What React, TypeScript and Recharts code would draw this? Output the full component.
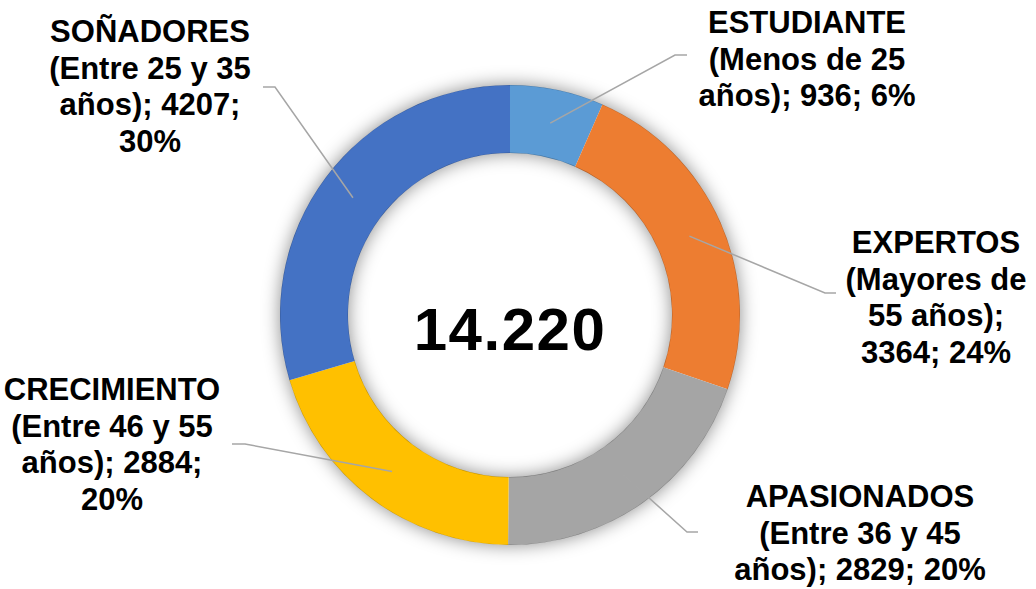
import { PieChart, Pie, Cell } from 'recharts';

const segments = ['ESTUDIANTE', 'EXPERTOS', 'APASIONADOS', 'CRECIMIENTO', 'SOÑADORES'];
const ageRanges = ['Menos de 25', 'Mayores de 55', 'Entre 36 y 45', 'Entre 46 y 55', 'Entre 25 y 35'];
const counts = [936, 3364, 2829, 2884, 4207];
const percents = [6, 24, 20, 20, 30];

const colors = ['#5B9BD5', '#ED7D31', '#A5A5A5', '#FFC000', '#4472C4'];

// where Excel put each label box and how its leader line bends
const labelLayout = [
  { x: 807, y: 33, words: [1, 3, 3], elbow: [675, 55], end: [687, 55] },
  { x: 936, y: 253, words: [1, 2, 2, 2], elbow: [825, 293], end: [836, 293] },
  { x: 860, y: 507, words: [1, 4, 3], elbow: [687, 532], end: [698, 532] },
  { x: 112, y: 400, words: [1, 4, 2, 1], elbow: [245, 444], end: [232, 444] },
  { x: 150, y: 42, words: [1, 4, 2, 1], elbow: [275, 87], end: [263, 87] },
];

const data = segments.map((name, i) => ({ name, value: counts[i] }));
const total = counts.reduce((a, b) => a + b, 0);
const ringData = [{ name: 'total', value: total }];

const formatThousands = (n: number) => String(n).replace(/\B(?=(\d{3})+(?!\d))/g, '.');

const FONT = '"Liberation Sans", Arial, sans-serif';
const RAD = Math.PI / 180;

const circlePath = (cx: number, cy: number, r: number) =>
  `M ${cx - r} ${cy} a ${r} ${r} 0 1 0 ${r * 2} 0 a ${r} ${r} 0 1 0 ${-r * 2} 0 Z `;

const renderLabel = (props: any) => {
  const { cx, cy, midAngle, innerRadius, outerRadius, index } = props;
  const lay = labelLayout[index];
  const r = (innerRadius + outerRadius) / 2;
  const ax = cx + r * Math.cos(-midAngle * RAD);
  const ay = cy + r * Math.sin(-midAngle * RAD);

  const text = `${segments[index]} (${ageRanges[index]} años); ${counts[index]}; ${percents[index]}%`;
  const allWords = text.split(' ');
  const lines: string[] = [];
  let k = 0;
  lay.words.forEach((n) => {
    lines.push(allWords.slice(k, k + n).join(' '));
    k += n;
  });

  return (
    <g key={`lbl-${index}`}>
      <polyline
        points={`${ax},${ay} ${lay.elbow[0]},${lay.elbow[1]} ${lay.end[0]},${lay.end[1]}`}
        fill="none"
        stroke="#a6a6a6"
        strokeWidth={1.5}
      />
      <text
        x={lay.x}
        y={lay.y}
        textAnchor="middle"
        fill="#000"
        fontFamily={FONT}
        fontWeight="bold"
        fontSize={31}
      >
        {lines.map((l, i) => (
          <tspan key={i} x={lay.x} y={lay.y + i * 36.7}>
            {l}
          </tspan>
        ))}
      </text>
    </g>
  );
};

// soft glow around the ring (clipped so it never covers the sectors) + the total in the hole
const renderCenter = (props: any) => {
  const { cx, cy, innerRadius, outerRadius } = props;
  const ring = circlePath(cx, cy, outerRadius) + circlePath(cx, cy, innerRadius);
  const clip =
    `M 0 0 H 1036 V 589 H 0 Z ` + circlePath(cx, cy, outerRadius - 0.5) + circlePath(cx, cy, innerRadius + 0.5);
  return (
    <g key="center">
      <defs>
        <filter id="ringShadow" x="-30%" y="-30%" width="160%" height="160%">
          <feGaussianBlur stdDeviation="9" />
        </filter>
        <clipPath id="ringClip">
          <path d={clip} clipRule="evenodd" />
        </clipPath>
      </defs>
      <g clipPath="url(#ringClip)">
        <path d={ring} fillRule="evenodd" fill="#000" fillOpacity={0.45} filter="url(#ringShadow)" />
      </g>
      <text
        x={cx}
        y={cy + 35}
        textAnchor="middle"
        fill="#000"
        fontFamily={FONT}
        fontWeight="bold"
        fontSize={60}
        letterSpacing={1.5}
      >
        {formatThousands(total)}
      </text>
    </g>
  );
};

export default function App() {
  return (
    <div style={{ position: 'absolute', left: 0, top: 0, width: 1036, height: 589, background: '#fff' }}>
      <PieChart width={1036} height={589} margin={{ top: 0, right: 0, bottom: 0, left: 0 }}>
        <Pie
          data={ringData}
          dataKey="value"
          cx={510}
          cy={315}
          innerRadius={162}
          outerRadius={230}
          stroke="none"
          fill="none"
          label={renderCenter}
          labelLine={false}
          isAnimationActive={false}
        />
        <Pie
          data={data}
          dataKey="value"
          nameKey="name"
          cx={510}
          cy={315}
          innerRadius={162}
          outerRadius={230}
          startAngle={90}
          endAngle={-270}
          stroke="none"
          label={renderLabel}
          labelLine={false}
          isAnimationActive={false}
        >
          {data.map((d, i) => (
            <Cell key={d.name} fill={colors[i]} />
          ))}
        </Pie>
      </PieChart>
    </div>
  );
}
